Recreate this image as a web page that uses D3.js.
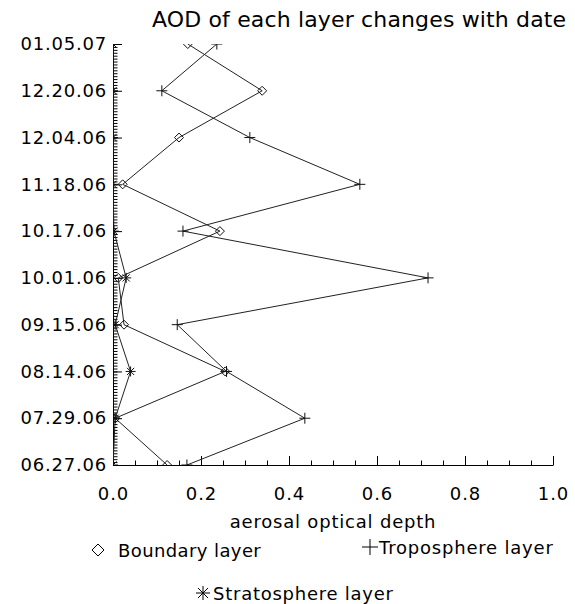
<!DOCTYPE html>
<html>
<head>
<meta charset="utf-8">
<script src="https://cdn.jsdelivr.net/npm/d3@7"></script>
<style>
  html, body { margin: 0; padding: 0; background: #fff; }
  svg { display: block; }
  text { font-family: "DejaVu Sans", sans-serif; fill: #000; }
</style>
</head>
<body>
<svg id="chart" width="575" height="604"></svg>
<script>
// Observation dates, oldest first (drawn bottom to top)
const dates = ["06.27.06", "07.29.06", "08.14.06", "09.15.06", "10.01.06",
               "10.17.06", "11.18.06", "12.04.06", "12.20.06", "01.05.07"];

// Aerosol optical depth per layer, one value per date
const boundary     = [0.123, 0.005, 0.255, 0.025, 0.012, 0.243, 0.022, 0.150, 0.339, 0.170];
const troposphere  = [0.168, 0.436, 0.258, 0.146, 0.716, 0.159, 0.561, 0.311, 0.111, 0.236];
const stratosphere = [0.000, 0.005, 0.040, 0.005, 0.030, 0.002, 0.000, 0.000, 0.000, 0.000];

const xTicks = [0.0, 0.2, 0.4, 0.6, 0.8, 1.0];
const xMinorStep = 0.05;
const yMinorPerInterval = 16;

const title = "AOD of each layer changes with date";
const xTitle = "aerosal optical depth";
const seriesNames = ["Boundary layer", "Troposphere layer", "Stratosphere layer"];

const svg = d3.select("#chart");
const plot = { left: 113, right: 553, top: 44, bottom: 465 };

const x = d3.scaleLinear().domain([0, 1]).range([plot.left, plot.right]);
const y = d3.scalePoint().domain(dates).range([plot.bottom, plot.top]);
const yIdx = d3.scaleLinear().domain([0, dates.length - 1]).range([plot.bottom, plot.top]);

const ink = "#000";

// Title
svg.append("text")
  .attr("x", 152).attr("y", 27)
  .style("font-size", "22px")
  .style("letter-spacing", "0.15px")
  .text(title);

// Minor ticks on the x axis
svg.append("g")
  .attr("transform", `translate(0,${plot.bottom})`)
  .call(d3.axisBottom(x)
    .tickValues(d3.range(0, 1 + 1e-9, xMinorStep))
    .tickSize(-4.5).tickSizeOuter(0).tickFormat(""))
  .call(g => g.select(".domain").remove());

// Major x axis
const gx = svg.append("g")
  .attr("transform", `translate(0,${plot.bottom})`)
  .call(d3.axisBottom(x)
    .tickValues(xTicks)
    .tickSize(-9).tickSizeOuter(0).tickPadding(22)
    .tickFormat(d3.format(".1f")));
gx.selectAll("text").style("font-size", "18px").style("letter-spacing", "1px").attr("fill", ink);

// Minor ticks on the y axis
svg.append("g")
  .attr("transform", `translate(${plot.left},0)`)
  .call(d3.axisLeft(yIdx)
    .tickValues(d3.range(0, (dates.length - 1) * yMinorPerInterval + 1).map(i => i / yMinorPerInterval))
    .tickSize(-4.5).tickSizeOuter(0).tickFormat(""))
  .call(g => g.select(".domain").remove());

// Major y axis with date labels
const gy = svg.append("g")
  .attr("transform", `translate(${plot.left},0)`)
  .call(d3.axisLeft(y).tickSize(-9).tickSizeOuter(0).tickPadding(6));
gy.selectAll("text").style("font-size", "18px").style("letter-spacing", "0.8px").attr("fill", ink);

svg.selectAll(".domain, .tick line").attr("stroke", ink).attr("stroke-width", 1);

// x axis title
svg.append("text")
  .attr("x", (plot.left + plot.right) / 2).attr("y", 528)
  .attr("text-anchor", "middle")
  .style("font-size", "18px")
  .style("letter-spacing", "0.8px")
  .text(xTitle);

// Marker shapes
function diamondPath(r) { return `M0,${-r}L${r},0L0,${r}L${-r},0Z`; }
function plusPath(r) { return `M${-r},0H${r}M0,${-r}V${r}`; }
function starPath(r) {
  const d = r * 0.72;
  return `M${-r},0H${r}M0,${-r}V${r}M${-d},${-d}L${d},${d}M${-d},${d}L${d},${-d}`;
}

const series = [
  { name: seriesNames[0], values: boundary,     marker: diamondPath(4.5), key: diamondPath(6) },
  { name: seriesNames[1], values: troposphere,  marker: plusPath(5.5),    key: plusPath(8) },
  { name: seriesNames[2], values: stratosphere, marker: starPath(5),      key: starPath(7) }
];

svg.append("defs").append("clipPath").attr("id", "plotClip")
  .append("rect")
  .attr("x", plot.left).attr("y", plot.top)
  .attr("width", plot.right - plot.left).attr("height", plot.bottom - plot.top);

const data = svg.append("g").attr("clip-path", "url(#plotClip)");
const line = d3.line().x(d => x(d.v)).y(d => y(d.date));

series.forEach(s => {
  const pts = dates.map((date, i) => ({ date, v: s.values[i] }));
  data.append("path")
    .datum(pts)
    .attr("d", line)
    .attr("fill", "none")
    .attr("stroke", "#222")
    .attr("stroke-width", 1);
  data.selectAll(null)
    .data(pts)
    .join("path")
    .attr("transform", d => `translate(${x(d.v)},${y(d.date)})`)
    .attr("d", s.marker)
    .attr("fill", "none")
    .attr("stroke", "#111")
    .attr("stroke-width", 1);
});

// Legend
const legend = [
  { s: series[0], sx: 98,  sy: 550, tx: 118, ls: "0.4px" },
  { s: series[1], sx: 370, sy: 547, tx: 379, ls: "0.8px" },
  { s: series[2], sx: 203, sy: 593, tx: 213, ls: "0.75px" }
];
legend.forEach(l => {
  svg.append("path")
    .attr("transform", `translate(${l.sx},${l.sy})`)
    .attr("d", l.s.key)
    .attr("fill", "none").attr("stroke", ink).attr("stroke-width", 1);
  svg.append("text")
    .attr("x", l.tx).attr("y", l.sy + 6.5)
    .style("font-size", "18px")
    .style("letter-spacing", l.ls)
    .text(l.s.name);
});
</script>
</body>
</html>
